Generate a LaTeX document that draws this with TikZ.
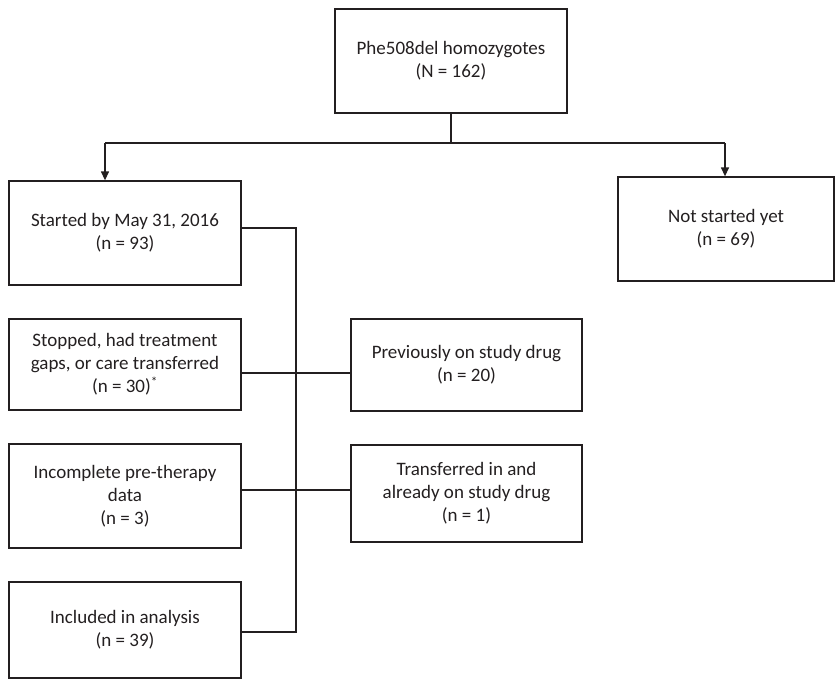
\documentclass[tikz,border=0pt]{standalone}
\usepackage{fontspec}
\setmainfont{Carlito}
\usetikzlibrary{arrows.meta,calc}
\definecolor{ink}{HTML}{231F20}
\begin{document}
\begin{tikzpicture}[x=1pt,y=-1pt,
  box/.style={draw=ink,line width=1.3pt,rectangle,align=center,inner sep=0pt,
    font=\fontsize{19}{23}\selectfont,text=ink},
  link/.style={draw=ink,line width=1.3pt},
  arr/.style={link,-{Triangle[length=9pt,width=8pt]}}]
\useasboundingbox (0,0) rectangle (836,680);
\node[box,minimum width=232pt,minimum height=104pt] (top) at (451,61) {Phe508del homozygotes\\(N = 162)};
\node[box,minimum width=232pt,minimum height=104pt] (start) at (125,233) {Started by May 31, 2016\\(n = 93)};
\node[box,minimum width=216pt,minimum height=104pt] (notyet) at (726,229) {Not started yet\\(n = 69)};
\node[box,minimum width=232pt,minimum height=91pt] (stopped) at (125,364.5) {Stopped, had treatment\\gaps, or care transferred\\(n = 30)\textsuperscript{*}};
\node[box,minimum width=231pt,minimum height=92pt] (prev) at (466.5,365) {Previously on study drug\\(n = 20)};
\node[box,minimum width=232pt,minimum height=104pt] (incomplete) at (125,496) {Incomplete pre-therapy\\data\\(n = 3)};
\node[box,minimum width=231pt,minimum height=97pt] (transferred) at (466.5,493.5) {Transferred in and\\already on study drug\\(n = 1)};
\node[box,minimum width=232pt,minimum height=96pt] (included) at (125,630) {Included in analysis\\(n = 39)};
% top split
\coordinate (hub) at (451,143);
\coordinate (aL) at (105,143);
\coordinate (aR) at (725,143);
\draw[link] (top.south) -- (hub);
\draw[link] (aL) -- (aR);
\draw[arr] (aL) -- (aL |- start.north);
\draw[arr] (aR) -- (aR |- notyet.north);
% spine
\coordinate (s1) at (start.east |- 0,228);
\coordinate (sp1) at (296,228);
\coordinate (sp2) at (296,632);
\coordinate (s4) at (included.east |- 0,632);
\draw[link] (s1) -- (sp1) -- (sp2) -- (s4);
% side exits
\coordinate (e2) at (stopped.east |- 0,373);
\coordinate (e3) at (incomplete.east |- 0,490);
\draw[link] (e2) -- (e2 -| prev.west);
\draw[link] (e3) -- (e3 -| transferred.west);
\end{tikzpicture}
\end{document}
